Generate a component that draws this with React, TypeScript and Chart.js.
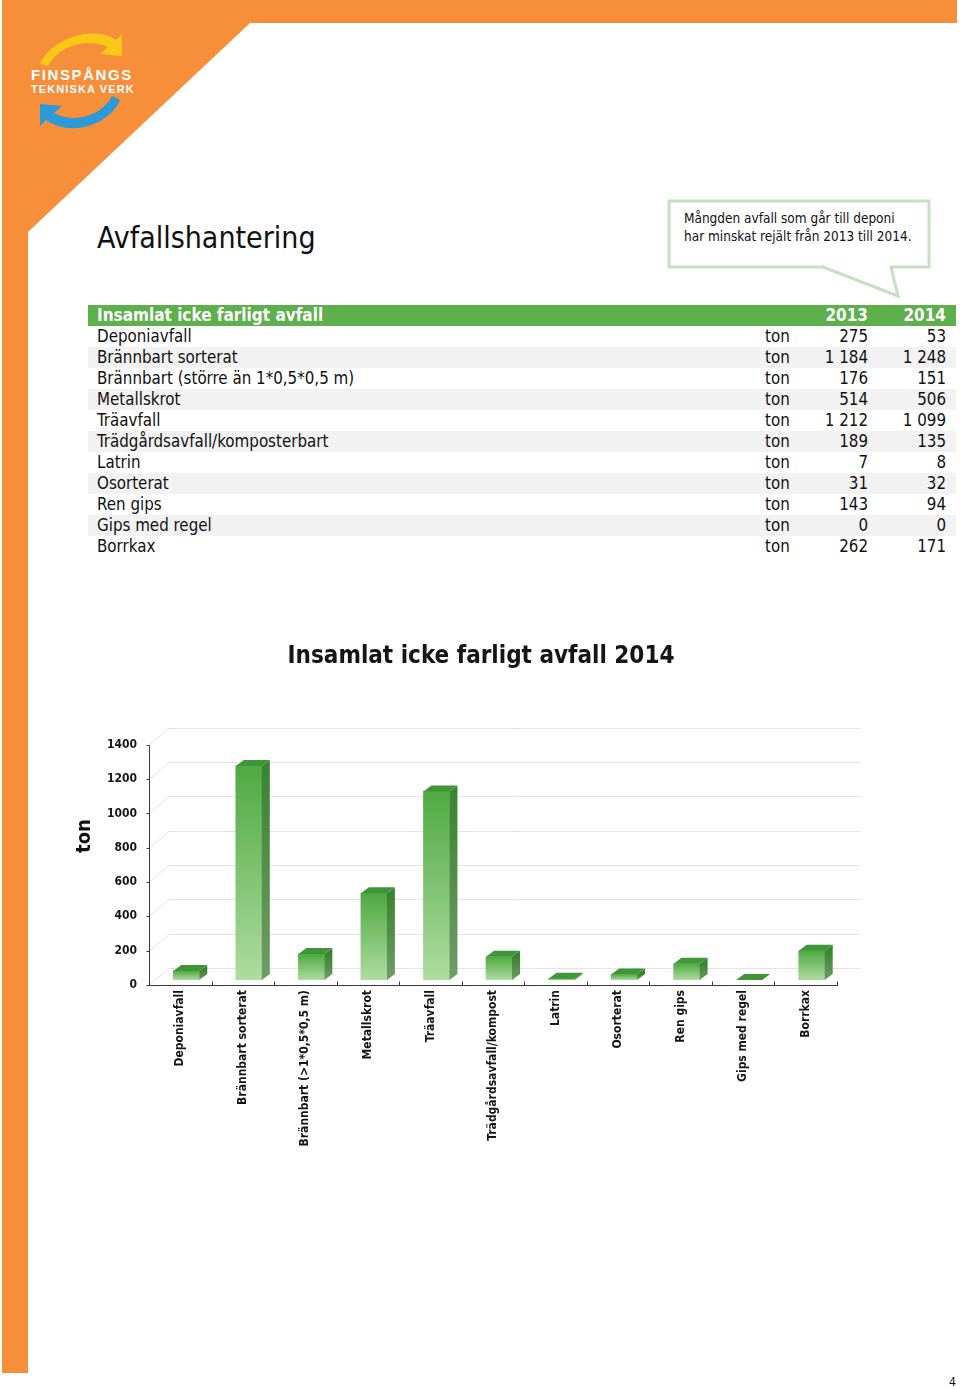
import React, { useEffect, useRef } from "react";
import { Chart, registerables } from "chart.js";

Chart.register(...registerables);

const FONT = "'DejaVu Sans Condensed', 'DejaVu Sans', sans-serif";

// ---------- data ----------
const pageTitle = "Avfallshantering";
const calloutLines = ["Mångden avfall som går till deponi", "har minskat rejält från 2013 till 2014."];
const tableTitle = "Insamlat icke farligt avfall";
const years = ["2013", "2014"];
const unit = "ton";
const tableLabels = [
  "Deponiavfall",
  "Brännbart sorterat",
  "Brännbart (större än 1*0,5*0,5 m)",
  "Metallskrot",
  "Träavfall",
  "Trädgårdsavfall/komposterbart",
  "Latrin",
  "Osorterat",
  "Ren gips",
  "Gips med regel",
  "Borrkax",
];
const values2013 = [275, 1184, 176, 514, 1212, 189, 7, 31, 143, 0, 262];
const values2014 = [53, 1248, 151, 506, 1099, 135, 8, 32, 94, 0, 171];

const chartTitle = "Insamlat icke farligt avfall 2014";
const chartCategories = [
  "Deponiavfall",
  "Brännbart sorterat",
  "Brännbart (>1*0,5*0,5 m)",
  "Metallskrot",
  "Träavfall",
  "Trädgårdsavfall/kompost",
  "Latrin",
  "Osorterat",
  "Ren gips",
  "Gips med regel",
  "Borrkax",
];
const chartValues = values2014;
const yMin = 0;
const yMax = 1400;
const yStep = 200;
const yAxisTitle = "ton";
const pageNumber = "4";

// ---------- styling constants ----------
const ORANGE = "#f68e3a";
const GREEN_HEAD = "#5db04b";
const DX = 8; // bar depth x
const DY = 6; // bar depth y
const BACK_DX = 20;
const BACK_DY = 12;
const FRONT_DY = 5;
const SHIFT = 6;

function fmt(n: number): string {
  return String(n).replace(/\B(?=(\d{3})+(?!\d))/g, " ");
}

function ok(...v: number[]) {
  return v.every((n) => Number.isFinite(n));
}

const pseudo3d = {
  id: "pseudo3d",
  afterDatasetsUpdate(chart: any) {
    chart.getDatasetMeta(0).data.forEach((el: any) => {
      if (Number.isFinite(el.x)) el.x += SHIFT;
    });
  },
  beforeDatasetsDraw(chart: any) {
    const { ctx, chartArea: a, scales } = chart;
    const y = scales.y;
    ctx.save();
    ctx.strokeStyle = "#e6e2e8";
    ctx.lineWidth = 1;
    y.ticks.forEach((t: any) => {
      const py = Math.round(y.getPixelForValue(t.value)) + 0.5;
      ctx.beginPath();
      ctx.moveTo(a.left, py + FRONT_DY);
      ctx.lineTo(a.left + BACK_DX, py - BACK_DY);
      ctx.lineTo(a.right + 23, py - BACK_DY);
      ctx.stroke();
    });
    ctx.restore();
  },
  afterDatasetsDraw(chart: any) {
    const { ctx } = chart;
    ctx.save();
    chart.getDatasetMeta(0).data.forEach((el: any) => {
      const { x, y, base, width } = el.getProps(["x", "y", "base", "width"], true);
      if (!ok(x, y, base, width)) return;
      const l = x - width / 2;
      const r = x + width / 2;
      if (base - y > 0.5) {
        const g = ctx.createLinearGradient(0, y, 0, base);
        g.addColorStop(0, "#3a8431");
        g.addColorStop(1, "#6f9c68");
        ctx.fillStyle = g;
        ctx.beginPath();
        ctx.moveTo(r, y);
        ctx.lineTo(r + DX, y - DY);
        ctx.lineTo(r + DX, base - DY);
        ctx.lineTo(r, base);
        ctx.closePath();
        ctx.fill();
      }
      ctx.fillStyle = "#3f9637";
      ctx.beginPath();
      ctx.moveTo(l, y);
      ctx.lineTo(l + DX, y - DY);
      ctx.lineTo(r + DX, y - DY);
      ctx.lineTo(r, y);
      ctx.closePath();
      ctx.fill();
    });
    ctx.restore();
  },
  afterDraw(chart: any) {
    const { ctx, chartArea: a, scales } = chart;
    const y = scales.y;
    const y0 = Math.round(y.getPixelForValue(yMin)) + FRONT_DY + 0.5;
    const yTop = Math.round(y.getPixelForValue(yMax)) + FRONT_DY + 0.5;
    const lx = Math.round(a.left) + 0.5;
    ctx.save();
    ctx.strokeStyle = "#3a3a3a";
    ctx.lineWidth = 1;
    ctx.beginPath();
    ctx.moveTo(lx, yTop);
    ctx.lineTo(lx, y0);
    ctx.lineTo(a.right + 1, y0);
    ctx.stroke();
    const n = chartCategories.length;
    const cw = (a.right - a.left) / n;
    ctx.beginPath();
    for (let i = 1; i <= n; i++) {
      const tx = Math.round(a.left + i * cw) + 0.5;
      ctx.moveTo(tx, y0);
      ctx.lineTo(tx, y0 - 4);
    }
    y.ticks.forEach((t: any) => {
      const py = Math.round(y.getPixelForValue(t.value)) + FRONT_DY + 0.5;
      ctx.moveTo(lx - 3, py);
      ctx.lineTo(lx, py);
    });
    ctx.stroke();
    ctx.fillStyle = "#111";
    ctx.font = `bold 20px ${FONT}`;
    ctx.textAlign = "center";
    ctx.textBaseline = "middle";
    ctx.translate(25, 206);
    ctx.rotate(-Math.PI / 2);
    ctx.fillText(yAxisTitle, 0, 0);
    ctx.restore();
  },
};

function BarChart() {
  const ref = useRef<HTMLCanvasElement | null>(null);
  useEffect(() => {
    if (!ref.current) return;
    const chart = new Chart(ref.current, {
      type: "bar",
      data: {
        labels: chartCategories,
        datasets: [
          {
            data: chartValues,
            yAxisID: "y",
            xAxisID: "x",
            barThickness: 26,
            borderWidth: 0,
            backgroundColor: (c: any) => {
              const ch = c.chart;
              const ys = ch.scales && ch.scales.y;
              if (!ys || c.dataIndex === undefined) return "#6fbe60";
              const top = ys.getPixelForValue(chartValues[c.dataIndex]);
              const bot = ys.getPixelForValue(yMin);
              if (!ok(top, bot) || bot - top < 1) return "#52aa45";
              const g = ch.ctx.createLinearGradient(0, top, 0, bot);
              g.addColorStop(0, "#50a943");
              g.addColorStop(1, "#addc9f");
              return g;
            },
          },
        ],
      },
      options: {
        responsive: false,
        animation: false,
        devicePixelRatio: 1,
        layout: { padding: { left: 0, right: 0, top: 0, bottom: 0 } },
        plugins: {
          legend: { display: false },
          tooltip: { enabled: false },
          title: {
            display: true,
            text: chartTitle,
            color: "#151515",
            font: { family: FONT, size: 24, weight: "bold" },
            padding: { top: 12, bottom: 69 },
          },
        },
        scales: {
          x: {
            grid: { display: false, drawTicks: false },
            border: { display: false },
            ticks: {
              autoSkip: false,
              maxRotation: 90,
              minRotation: 90,
              padding: 10,
              color: "#151515",
              font: { family: FONT, size: 12, weight: "bold" },
            },
            afterFit: (s: any) => {
              s.height = 180;
            },
          },
          y: {
            position: "left",
            min: yMin,
            max: yMax,
            grid: { display: false, drawTicks: false },
            border: { display: false },
            ticks: {
              stepSize: yStep,
              padding: 12,
              labelOffset: FRONT_DY,
              color: "#151515",
              font: { family: FONT, size: 12, weight: "bold" },
              callback: (v: any) => String(v),
            },
            afterFit: (s: any) => {
              s.width = 89;
            },
          },
          spacer: {
            type: "linear",
            position: "right",
            grid: { display: false, drawTicks: false },
            border: { display: false },
            ticks: { display: false },
            afterFit: (s: any) => {
              s.width = 65;
            },
          },
        },
      } as any,
      plugins: [pseudo3d as any],
    });
    return () => chart.destroy();
  }, []);
  return (
    <canvas
      ref={ref}
      width={842}
      height={530}
      style={{ position: "absolute", left: 60, top: 630, width: 842, height: 530 }}
    />
  );
}

function Logo() {
  return (
    <svg width="160" height="150" style={{ position: "absolute", left: 0, top: 0 }}>
      <path d="M40,64 C50,40 92,24 116,40 L122,34 L122,56 L100,54 L108,47 C88,38 60,44 48,66 Z" fill="#f9c817" />
      <path d="M120,100 C110,124 72,138 46,120 L40,126 L40,104 L62,106 L54,113 C74,124 102,116 112,96 Z" fill="#2a9ad8" />
      <text x="31" y="80" fill="#fff" fontFamily="'Liberation Sans', Arial, sans-serif" fontWeight="bold" fontSize="15" letterSpacing="1.6">
        FINSPÅNGS
      </text>
      <text x="31" y="93" fill="#fff" fontFamily="'Liberation Sans', Arial, sans-serif" fontWeight="bold" fontSize="11" letterSpacing="1.1">
        TEKNISKA VERK
      </text>
    </svg>
  );
}

export default function App() {
  const rowTop = 326;
  const rowH = 21;
  return (
    <div
      style={{
        position: "absolute",
        left: 0,
        top: 0,
        width: 960,
        height: 1389,
        overflow: "hidden",
        background: "#fff",
        fontFamily: FONT,
        color: "#111",
      }}
    >
      <svg width="960" height="1389" style={{ position: "absolute", left: 0, top: 0 }}>
        <polygon points="2,0 957,0 957,23 250,23 28,232 28,1373 2,1373" fill={ORANGE} />
        <path
          d="M669,201 L929,201 L929,267 L891,267 L898,296 L823,267 L669,267 Z"
          fill="#fff"
          stroke="#c5e1bd"
          strokeWidth="3"
        />
      </svg>
      <Logo />
      <div
        style={{
          position: "absolute",
          left: 97,
          top: 223,
          fontSize: 30,
          lineHeight: "30px",
          whiteSpace: "nowrap",
          color: "#111",
        }}
      >
        {pageTitle}
      </div>
      {calloutLines.map((t, i) => (
        <div
          key={i}
          style={{
            position: "absolute",
            left: 684,
            top: 210 + i * 18,
            fontSize: 13.5,
            lineHeight: "17px",
            whiteSpace: "nowrap",
          }}
        >
          {t}
        </div>
      ))}
      <div
        style={{
          position: "absolute",
          left: 88,
          top: 305,
          width: 868,
          height: 21,
          background: GREEN_HEAD,
          color: "#fff",
          fontWeight: "bold",
          fontSize: 17,
          lineHeight: "21px",
        }}
      >
        <span style={{ position: "absolute", left: 9, whiteSpace: "nowrap" }}>{tableTitle}</span>
        <span style={{ position: "absolute", right: 956 - 868 }}>{years[0]}</span>
        <span style={{ position: "absolute", right: 956 - 946 }}>{years[1]}</span>
      </div>
      {tableLabels.map((lab, i) => (
        <div
          key={lab}
          style={{
            position: "absolute",
            left: 88,
            top: rowTop + i * rowH,
            width: 868,
            height: rowH,
            background: i % 2 === 1 ? "#f2f2f2" : "transparent",
            fontSize: 16.8,
            lineHeight: rowH + "px",
            whiteSpace: "pre",
          }}
        >
          <span style={{ position: "absolute", left: 9 }}>{lab}</span>
          <span style={{ position: "absolute", left: 765 - 88 }}>{unit}</span>
          <span style={{ position: "absolute", right: 956 - 868 }}>{fmt(values2013[i])}</span>
          <span style={{ position: "absolute", right: 956 - 946 }}>{fmt(values2014[i])}</span>
        </div>
      ))}
      <BarChart />
      <div style={{ position: "absolute", left: 949, top: 1375, fontSize: 12, lineHeight: "14px" }}>{pageNumber}</div>
    </div>
  );
}
